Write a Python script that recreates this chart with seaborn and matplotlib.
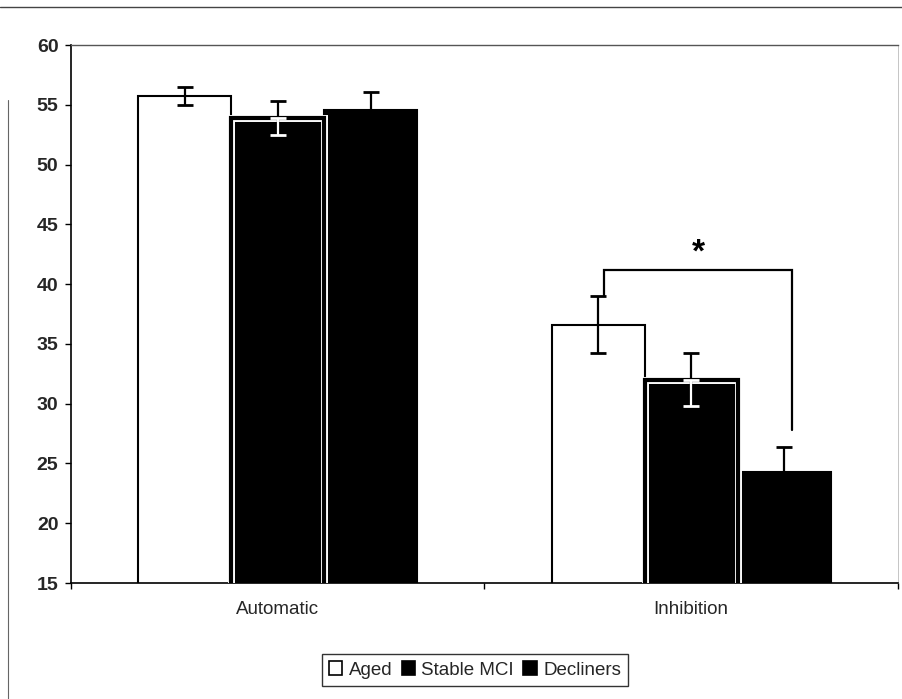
import matplotlib
matplotlib.use("Agg")
import matplotlib.pyplot as plt
import matplotlib.patches as mpatches
import seaborn as sns
import pandas as pd

conditions = ["Automatic", "Inhibition"]
groups = ["Aged", "Stable MCI", "Decliners"]
aged_mean = [55.7, 36.6]
stable_mean = [53.9, 32.0]
decl_mean = [54.6, 24.3]
aged_err = [0.75, 2.4]
stable_err = [1.45, 2.2]
decl_err = [1.45, 2.1]
yticks = [15, 20, 25, 30, 35, 40, 45, 50, 55, 60]

rows = []
for g, means, errs in zip(groups, [aged_mean, stable_mean, decl_mean],
                          [aged_err, stable_err, decl_err]):
    for c, m, e in zip(conditions, means, errs):
        rows.append({"cond": c, "group": g, "mean": m, "err": e})
df = pd.DataFrame(rows)

sns.set_theme(style="white")
plt.rcParams["font.family"] = ["Liberation Sans", "DejaVu Sans"]

fig = plt.figure(figsize=(9.03, 6.99), dpi=100)
ax = fig.add_axes([71 / 903, 1 - 583 / 699, (898 - 71) / 903, (583 - 45) / 699])

palette = {"Aged": "white", "Stable MCI": "black", "Decliners": "black"}
sns.barplot(data=df, x="cond", y="mean", hue="group", hue_order=groups,
            order=conditions, palette=palette, width=0.675, gap=0,
            edgecolor="black", linewidth=1.5, errorbar=None, ax=ax, legend=False)

ax.set_ylim(15, 60)
ax.set_xlim(-0.5, 1.5)
ax.set_yticks(yticks)
ax.set_yticklabels([str(t) for t in yticks], fontsize=14, fontweight="bold")
ax.set_xlabel("")
ax.set_ylabel("")
ax.tick_params(axis="x", length=0, labelsize=13.5, pad=13)
ax.tick_params(axis="y", left=True, length=4, width=1, color="black", pad=5)
ax.set_xticks([-0.5, 0.5, 1.5], minor=True)
ax.tick_params(axis="x", which="minor", bottom=True, length=4, width=1, color="black")

for s in ["left", "bottom"]:
    ax.spines[s].set_color("black")
    ax.spines[s].set_linewidth(1.2)
ax.spines["top"].set_color("#555555")
ax.spines["top"].set_linewidth(1.0)
ax.spines["right"].set_color("#bbbbbb")
ax.spines["right"].set_linewidth(0.6)

err_lists = [aged_err, stable_err, decl_err]
centers = {}
for gi, (cont, errs) in enumerate(zip(ax.containers, err_lists)):
    xs = [p.get_x() + p.get_width() / 2 for p in cont.patches]
    hs = [p.get_height() for p in cont.patches]
    centers[groups[gi]] = (xs, hs)
    if groups[gi] == "Stable MCI":
        for p in cont.patches:
            r1 = mpatches.Rectangle((p.get_x(), p.get_y()), p.get_width(), p.get_height(),
                                    fill=False, edgecolor="white", linewidth=5, zorder=3)
            r1.set_clip_path(p)
            ax.add_patch(r1)
            r2 = mpatches.Rectangle((p.get_x(), p.get_y()), p.get_width(), p.get_height(),
                                    fill=False, edgecolor="black", linewidth=3, zorder=3)
            r2.set_clip_path(p)
            ax.add_patch(r2)
    ax.errorbar(xs, hs, yerr=errs, fmt="none", ecolor="black", elinewidth=1.6,
                capsize=5.5, capthick=2, zorder=4)
    if groups[gi] == "Stable MCI":
        ax.errorbar(xs, hs, yerr=[errs, [0] * len(errs)], fmt="none", ecolor="white",
                    elinewidth=1.6, capsize=5.5, capthick=2, zorder=5)

# significance bracket between Aged and Decliners for Inhibition
xa = centers["Aged"][0][1] + 0.015
xd = centers["Decliners"][0][1] + 0.018
ytop = aged_mean[1] + aged_err[1]
ybr = 41.2
ax.plot([xa, xa, xd, xd], [ytop, ybr, ybr, 27.8], color="black", lw=1.6,
        solid_joinstyle="miter", zorder=6)
ax.text((xa + xd) / 2, ybr + 0.1, "*", ha="center", va="bottom", fontsize=24,
        fontweight="bold", color="black")

# legend
handles = [mpatches.Patch(facecolor=palette[g], edgecolor="black", linewidth=1.2) for g in groups]
leg = fig.legend(handles, groups, loc="center", bbox_to_anchor=(475 / 903, 1 - 670 / 699),
                 ncol=3, frameon=True, fontsize=13.5, handlelength=0.7, handleheight=0.7,
                 handletextpad=0.35, columnspacing=0.5, borderpad=0.4, fancybox=False)
leg.get_frame().set_edgecolor("black")
leg.get_frame().set_linewidth(1.0)

# outer chart-area border (scanned Excel frame)
fig.add_artist(plt.Line2D([0, 1], [1 - 7 / 699, 1 - 7 / 699], transform=fig.transFigure,
                          color="#444444", lw=1.0))
fig.add_artist(plt.Line2D([8 / 903, 8 / 903], [0, 1 - 100 / 699], transform=fig.transFigure,
                          color="#666666", lw=0.8))

fig.savefig("out.png", dpi=100, facecolor="white")
